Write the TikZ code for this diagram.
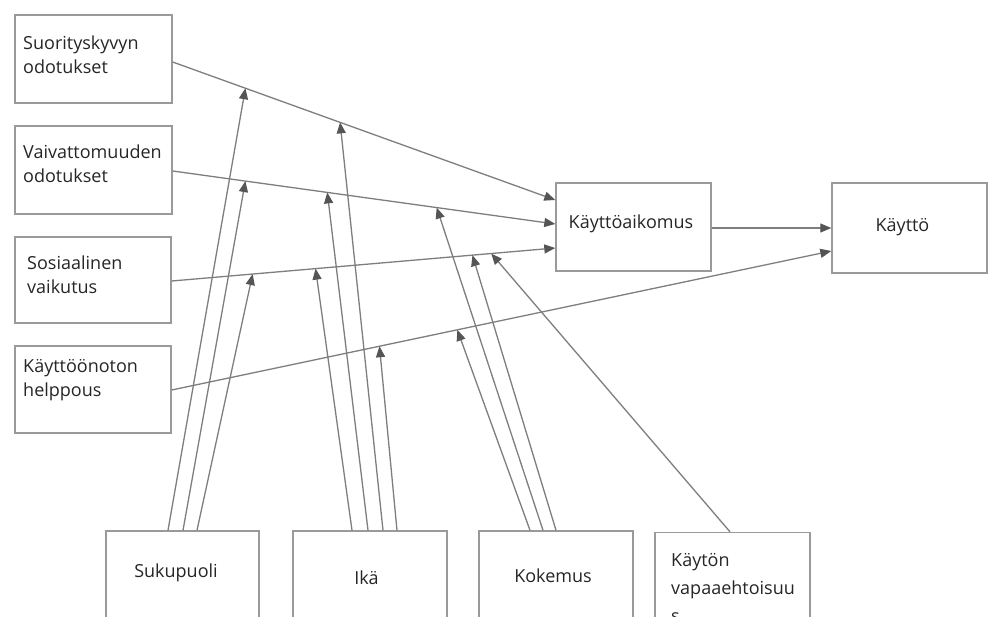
\documentclass[tikz,border=0pt]{standalone}
\usepackage{fontspec}
\setmainfont{Open Sans}
\usetikzlibrary{arrows.meta,calc}
\definecolor{boxc}{HTML}{9A9A9A}
\definecolor{linec}{HTML}{7E7E7E}
\definecolor{tipc}{HTML}{555555}
\begin{document}
\begin{tikzpicture}[x=1pt,y=-1pt,
 box/.style={draw=boxc,line width=1.4pt,inner sep=0pt},
 lbl/.style={align=left,inner sep=0pt,font=\fontsize{18}{24}\selectfont,text=black!85},
 arr/.style={draw=linec,line width=1.3pt,-{Triangle[length=11pt,width=9pt,color=tipc]}},
]
\useasboundingbox (0,0) rectangle (993,616);
\clip (0,0) rectangle (993,616);
\fill[white] (0,0) rectangle (993,616);
% boxes
\node[box,minimum width=157pt,minimum height=88pt] (s1) at (93.5,59) {};
\node[box,minimum width=157pt,minimum height=88pt] (s2) at (93.5,170) {};
\node[box,minimum width=156pt,minimum height=86pt] (s3) at (93,280) {};
\node[box,minimum width=156pt,minimum height=87pt] (s4) at (93,389.5) {};
\node[box,minimum width=155pt,minimum height=88pt] (ka) at (633.5,227) {};
\node[box,minimum width=155pt,minimum height=90pt] (k) at (909.5,228) {};
\node[box,minimum width=153pt,minimum height=129pt] (suk) at (182.5,595.5) {};
\node[box,minimum width=154pt,minimum height=129pt] (ika) at (370,595.5) {};
\node[box,minimum width=154pt,minimum height=129pt] (kok) at (556,595.5) {};
\node[box,minimum width=155pt,minimum height=129pt] (kvap) at (732.5,597) {};
% texts
\node[lbl,anchor=west] (t1) at (23,54.5) {Suorityskyvyn\\odotukset};
\node[lbl,anchor=west] (t2) at (23,164) {Vaivattomuuden\\odotukset};
\node[lbl,anchor=west] (t3) at (27,274.5) {Sosiaalinen\\vaikutus};
\node[lbl,anchor=west] (t4) at (23,380.5) {Käyttöönoton\\helppous};
\node[lbl] (tka) at (631,224) {Käyttöaikomus};
\node[lbl] (tk) at (902.5,227) {Käyttö};
\node[lbl] (tsuk) at (176,573) {Sukupuoli};
\node[lbl] (tika) at (366.5,578) {Ikä};
\node[lbl] (tkok) at (553,576) {Kokemus};
\node[lbl,anchor=north west,font=\fontsize{18}{28}\selectfont] (tkvap) at (671,553) {Käytön\\vapaaehtoisuu\\s};
% main line end points
\coordinate (l1a) at ([yshift=-3pt]s1.east);
\coordinate (l1b) at ([yshift=27pt]ka.west);
\coordinate (l2a) at ([yshift=-1pt]s2.east);
\coordinate (l2b) at ([yshift=3pt]ka.west);
\coordinate (l3a) at ([yshift=-1pt]s3.east);
\coordinate (l3b) at ([yshift=-21pt]ka.west);
\coordinate (l4a) at ([yshift=-0.5pt]s4.east);
\coordinate (l4b) at ([yshift=-23pt]k.west);
\draw[arr] (l1a) -- (l1b);
\draw[arr] (l2a) -- (l2b);
\draw[arr] (l3a) -- (l3b);
\draw[arr] (l4a) -- (l4b);
\draw[arr] ([yshift=-1pt]ka.east) -- ([yshift=0pt]k.west);
% moderators
\draw[arr] ([xshift=-14.5pt]suk.north) -- ($(l1a)!0.19!(l1b)$);
\draw[arr] ([xshift=0.5pt]suk.north) -- ($(l2a)!0.19!(l2b)$);
\draw[arr] ([xshift=14.5pt]suk.north) -- ($(l3a)!0.211!(l3b)$);
\draw[arr] ([xshift=-18pt]ika.north) -- ($(l3a)!0.375!(l3b)$);
\draw[arr] ([xshift=-2pt]ika.north) -- ($(l2a)!0.404!(l2b)$);
\draw[arr] ([xshift=13pt]ika.north) -- ($(l1a)!0.4375!(l1b)$);
\draw[arr] ([xshift=27pt]ika.north) -- ($(l4a)!0.315!(l4b)$);
\draw[arr] ([xshift=-26pt]kok.north) -- ($(l4a)!0.433!(l4b)$);
\draw[arr] ([xshift=-13pt]kok.north) -- ($(l2a)!0.69!(l2b)$);
\draw[arr] ([xshift=0pt]kok.north) -- ($(l3a)!0.784!(l3b)$);
\draw[arr] ([xshift=-2.5pt]kvap.north) -- ($(l3a)!0.833!(l3b)$);
\end{tikzpicture}
\end{document}
